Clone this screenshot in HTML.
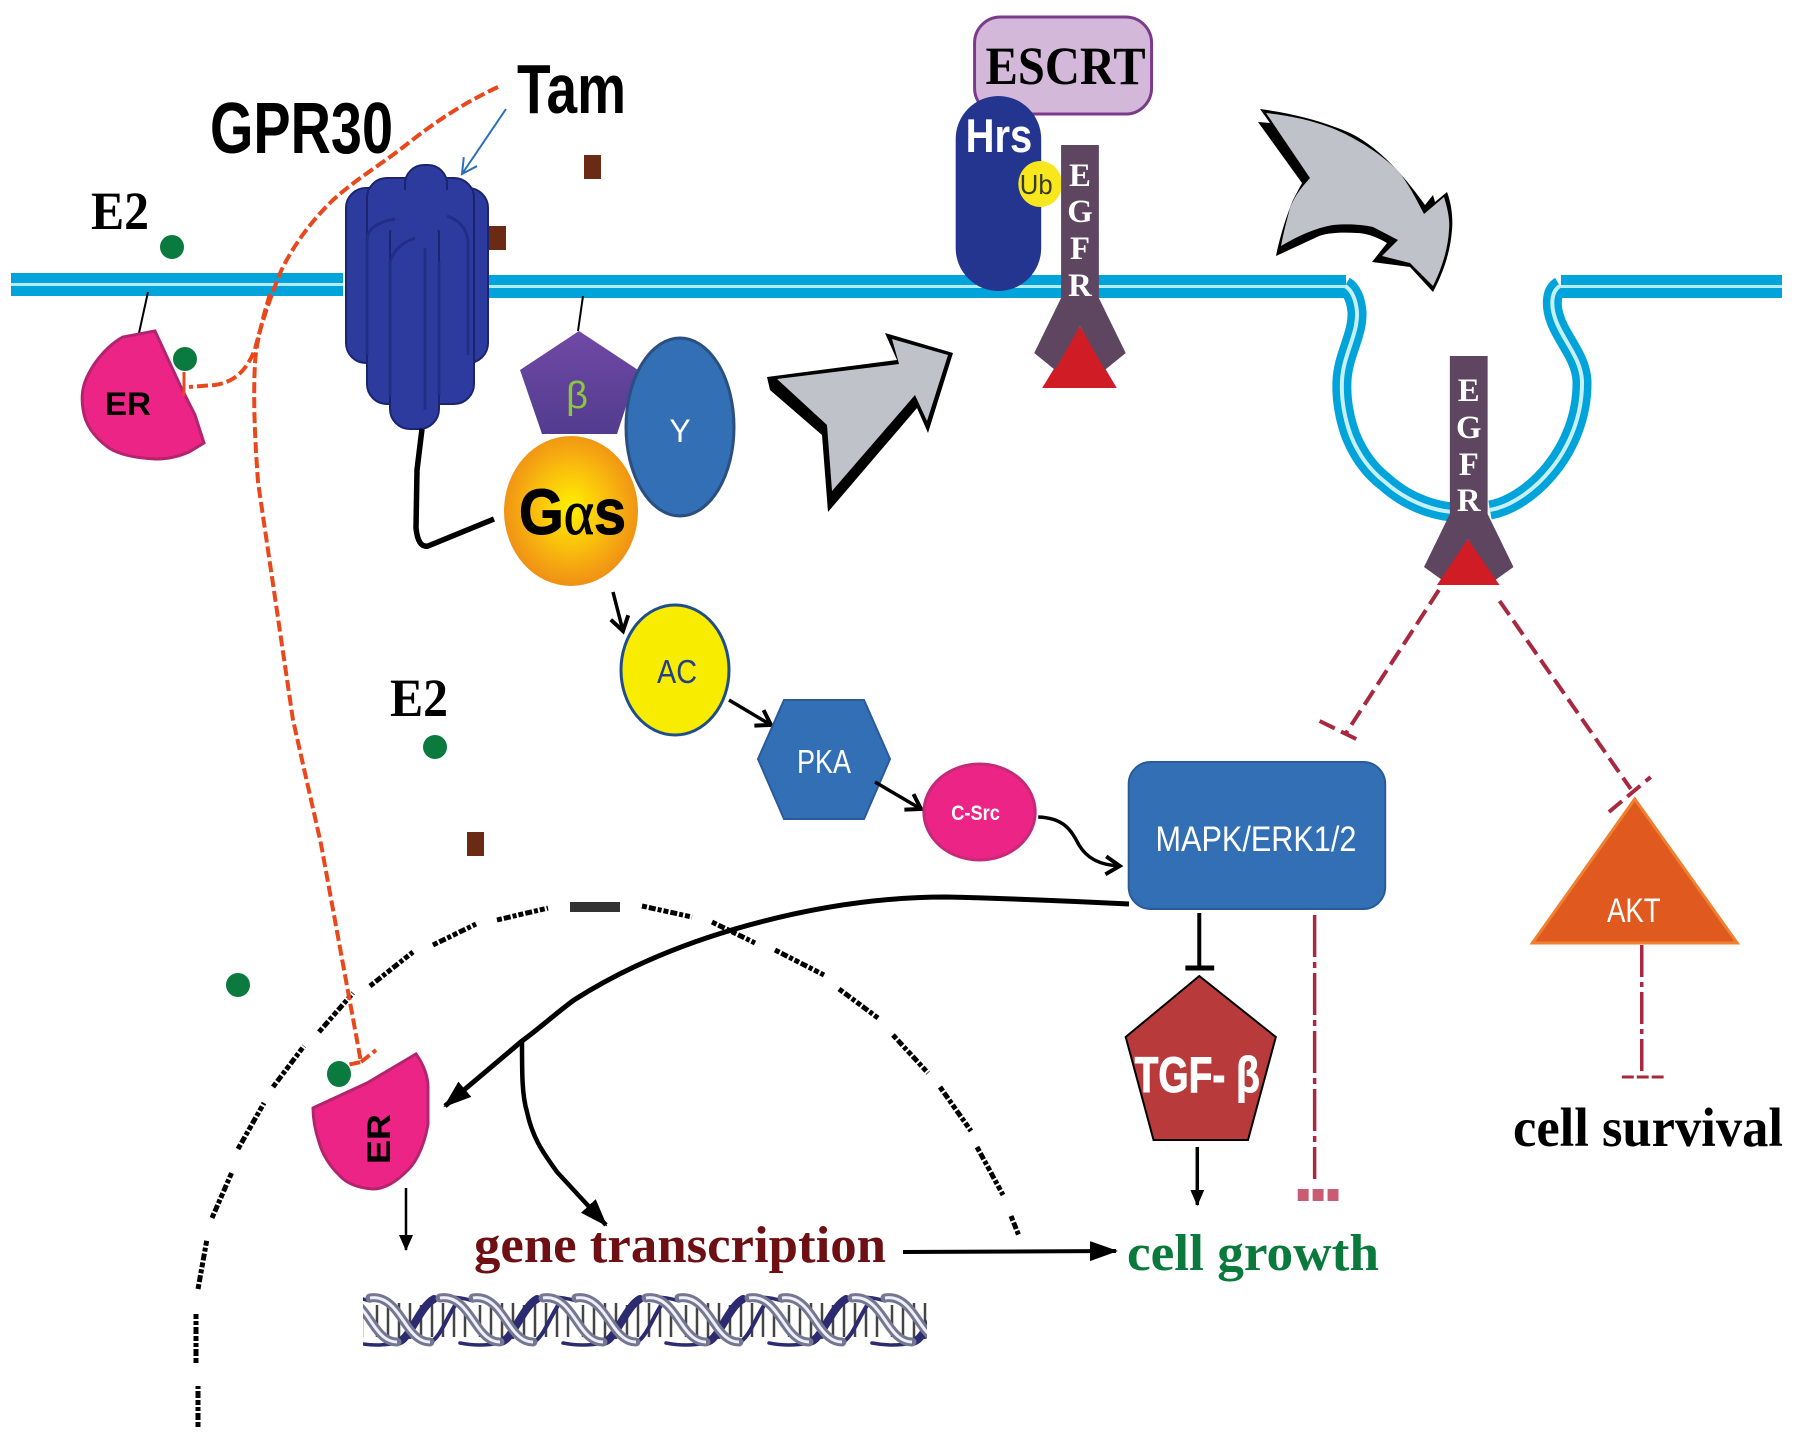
<!DOCTYPE html>
<html>
<head>
<meta charset="utf-8">
<style>
html,body{margin:0;padding:0;background:#fff;}
svg{display:block;}
text{font-family:"Liberation Sans",sans-serif;}
.serif{font-family:"Liberation Serif",serif;font-weight:bold;}
.b{font-weight:bold;}
.eg{font-family:"Liberation Serif",serif;font-weight:bold;fill:#fff;text-anchor:middle;font-size:33px;}
</style>
</head>
<body>
<svg width="1795" height="1440" viewBox="0 0 1795 1440" xmlns="http://www.w3.org/2000/svg">
<defs>
<marker id="solid" markerUnits="userSpaceOnUse" markerWidth="30" markerHeight="24" refX="26" refY="12" orient="auto"><path d="M0,2 L28,12 L0,22 Z" fill="#000"/></marker>
<marker id="small" markerUnits="userSpaceOnUse" markerWidth="20" markerHeight="20" refX="15" refY="10" orient="auto"><path d="M0,3 L16,10 L0,17 Z" fill="#000"/></marker>
<marker id="open" markerUnits="userSpaceOnUse" markerWidth="24" markerHeight="24" refX="17" refY="12" orient="auto"><path d="M3,3 L17,12 L3,21" fill="none" stroke="#000" stroke-width="4"/></marker>
<marker id="thin" markerUnits="userSpaceOnUse" markerWidth="24" markerHeight="24" refX="20" refY="12" orient="auto"><path d="M5,4 L20,12 L5,20" fill="none" stroke="#2a70b9" stroke-width="2"/></marker>
<radialGradient id="ball" cx="50%" cy="48%" r="55%"><stop offset="0" stop-color="#fff200"/><stop offset=".45" stop-color="#fbc20c"/><stop offset="1" stop-color="#ee8a16"/></radialGradient>
<linearGradient id="pent" x1="0" y1="0" x2="0" y2="1"><stop offset="0" stop-color="#7049a6"/><stop offset="1" stop-color="#523c8e"/></linearGradient>
<clipPath id="dclip"><rect x="363" y="1285" width="564" height="70"/></clipPath>
<g id="dnaU">
<path d="M40,10 V42 M51,12 V44 M62,8 V44 M73,8 V44 M84,10 V44 M95,8 V42 M106,8 V42 M117,10 V42 M128,10 V42" stroke="#444" stroke-width="2.5"/>
<path d="M20,48 Q40,52 60,48 M97,3 Q118,0 136,6" fill="none" stroke="#2c2a70" stroke-width="3.5" stroke-linecap="round"/>
<path d="M60,47 C72,47 82,12 97,4" fill="none" stroke="#2c2a70" stroke-width="8" stroke-linecap="round"/>
<path d="M93,47 C103,45 112,16 122,5" fill="none" stroke="#2c2a70" stroke-width="4" stroke-linecap="round"/>
<path d="M0,3 C18,0 28,18 35,28 C43,40 50,47 60,47" fill="none" stroke="#75778f" stroke-width="9" stroke-linecap="round"/>
<path d="M0,3 C18,0 28,18 35,28 C43,40 50,47 60,47" fill="none" stroke="#eef" stroke-width="3"/>
<path d="M33,3 C51,0 61,18 68,28 C76,40 83,47 93,47" fill="none" stroke="#75778f" stroke-width="9" stroke-linecap="round"/>
<path d="M33,3 C51,0 61,18 68,28 C76,40 83,47 93,47" fill="none" stroke="#eef" stroke-width="3"/>
</g>
</defs>

<!-- membrane -->
<rect x="11" y="273" width="332" height="23" fill="#00a3da"/>
<rect x="11" y="283" width="332" height="3" fill="#b5ecfb"/>
<rect x="488" y="275" width="858" height="23" fill="#00a3da"/>
<rect x="488" y="285" width="858" height="3" fill="#b5ecfb"/>
<rect x="1561" y="275" width="221" height="23" fill="#00a3da"/>
<rect x="1561" y="285" width="221" height="3" fill="#b5ecfb"/>
<path d="M1345,286 C1352,290 1356,300 1357,312 C1358,335 1343,355 1342,381 C1341,400 1345,420 1351,436 C1360,458 1372,472 1385,482 C1405,500 1430,510 1452,512 M1490,510 C1530,503 1583,450 1582,381 C1581,358 1563,340 1556,321 C1551,308 1550,292 1560,286" fill="none" stroke="#00a3da" stroke-width="19"/>
<path d="M1345,286 C1352,290 1356,300 1357,312 C1358,335 1343,355 1342,381 C1341,400 1345,420 1351,436 C1360,458 1372,472 1385,482 C1405,500 1430,510 1452,512 M1490,510 C1530,503 1583,450 1582,381 C1581,358 1563,340 1556,321 C1551,308 1550,292 1560,286" fill="none" stroke="#c6f0fb" stroke-width="4"/>

<!-- nucleus dashed envelope -->
<path d="M198,1427 L198,1386 M196,1363 L196,1312 M198,1289 L207,1239 M212,1218 L232,1172 M238,1149 L264,1103 M273,1087 L304,1046 M319,1032 L353,993 M370,986 L413,952 M433,945 L476,924 M497,920 L548,908 M642,906 L692,917 M712,922 L755,943 M775,950 L824,975 M839,989 L878,1018 M893,1035 L928,1073 M940,1087 L971,1131 M977,1147 L1003,1195 M1011,1216 L1019,1236" fill="none" stroke="#000" stroke-width="5" stroke-dasharray="5 2 7 2 4 2"/>
<rect x="570" y="902" width="50" height="10" fill="#333"/>

<!-- ER 1 -->
<line x1="148" y1="292" x2="139" y2="333" stroke="#000" stroke-width="2"/>
<path d="M155,331 L180,385 L195,415 L204,443 L189,452 C175,458 165,459 155,459 C135,458 120,455 109,448 C95,438 85,425 83,409 C80,390 85,378 95,363 C103,352 112,343 123,337 Z" fill="#ec2486" stroke="#b3246f" stroke-width="3"/>
<text x="105" y="415" font-size="32" class="b" textLength="46" lengthAdjust="spacingAndGlyphs">ER</text>

<!-- GPR30 barrel -->
<g fill="#2d3b9e" stroke="#1a2470" stroke-width="2">
<rect x="346" y="188" width="142" height="175" rx="20"/>
<rect x="367" y="178" width="107" height="226" rx="20"/>
<rect x="390" y="215" width="49" height="214" rx="20"/>
<rect x="405" y="165" width="42" height="50" rx="19"/>
</g>
<rect x="369" y="190" width="103" height="40" fill="#2d3b9e"/>
<rect x="392" y="215" width="45" height="40" fill="#2d3b9e"/>
<path d="M367,355 L367,240 Q367,224 395,219 M390,395 L390,262 Q395,245 415,238 M425,410 L425,248 M439,395 L439,262 M468,355 L468,240 Q465,222 447,216" stroke="#222d85" stroke-width="3" fill="none"/>

<!-- connector from barrel to G alpha -->
<path d="M422,429 L417,470 L416,528 Q418,548 428,546 L494,519" fill="none" stroke="#000" stroke-width="5.5"/>

<!-- brown squares -->
<rect x="584" y="155" width="17" height="24" fill="#6b2a14"/>
<rect x="489" y="226" width="17" height="24" fill="#6b2a14"/>
<rect x="467" y="832" width="17" height="24" fill="#6b2a14"/>

<!-- green dots -->
<g fill="#0a7a3f">
<ellipse cx="172" cy="247" rx="12" ry="12"/>
<ellipse cx="185" cy="359" rx="12" ry="12"/>
<ellipse cx="435" cy="747" rx="12" ry="12"/>
<ellipse cx="238" cy="985" rx="12" ry="12"/>
<ellipse cx="339" cy="1074" rx="12" ry="13"/>
</g>

<!-- orange dashed -->
<g fill="none" stroke="#e8481c" stroke-width="4" stroke-dasharray="11 4">
<path d="M498,87 C455,107 425,130 402,148 C380,165 355,180 333,200 Q300,232 281,271 Q265,310 255,349 C247,370 235,382 215,385 L189,387"/>
<path d="M270,294 C262,320 256,345 255,363 C253,400 255,440 258,482 L293,720 L321,844 L347,986 L361,1062 L347,1065"/>
<path d="M361,1062 L376,1050"/>
</g>
<line x1="184" y1="372" x2="184" y2="396" stroke="#e8481c" stroke-width="3"/>

<!-- blue thin arrow -->
<line x1="506" y1="109" x2="462" y2="174" stroke="#2a70b9" stroke-width="2" marker-end="url(#thin)"/>

<!-- beta gamma G alpha -->
<line x1="583" y1="296" x2="578" y2="331" stroke="#000" stroke-width="2"/>
<polygon points="579,331 638,370 617,434 542,434 520,370" fill="url(#pent)"/>
<text x="577" y="408" font-size="38" text-anchor="middle" fill="#8cc63f">β</text>
<ellipse cx="680" cy="427" rx="54" ry="89" fill="#336fb5" stroke="#2a4f80" stroke-width="3"/>
<text x="680" y="442" font-size="32" text-anchor="middle" fill="#fff">Υ</text>
<ellipse cx="571" cy="511" rx="67" ry="75" fill="url(#ball)"/>
<text x="519" y="534" font-size="64" class="b" textLength="107" lengthAdjust="spacingAndGlyphs" stroke="#000" stroke-width="1">G<tspan font-family="Liberation Serif" font-weight="normal">α</tspan>s</text>

<!-- signalling -->
<path d="M613,592 L623,631" stroke="#000" stroke-width="3.5" marker-end="url(#open)" fill="none"/>
<ellipse cx="675" cy="670" rx="54" ry="65" fill="#f8ec00" stroke="#1f4e8c" stroke-width="3"/>
<text x="677" y="683" font-size="33" text-anchor="middle" fill="#24408a" textLength="40" lengthAdjust="spacingAndGlyphs">AC</text>
<path d="M729,700 L771,725" stroke="#000" stroke-width="3.5" marker-end="url(#open)" fill="none"/>
<polygon points="758,759 784,700 864,700 890,759 864,819 784,819" fill="#336fb5" stroke="#2a5a9a" stroke-width="2"/>
<text x="824" y="773" font-size="33" text-anchor="middle" fill="#fff" textLength="54" lengthAdjust="spacingAndGlyphs">PKA</text>
<path d="M875,782 L921,809" stroke="#000" stroke-width="3.5" marker-end="url(#open)" fill="none"/>

<g transform="translate(900 0) scale(.9943 1) translate(-900 0)">
<ellipse cx="980" cy="812" rx="56" ry="48" fill="#ec2486" stroke="#c42a78" stroke-width="3"/>
<text x="976" y="820" font-size="21" class="b" text-anchor="middle" fill="#fff" textLength="49" lengthAdjust="spacingAndGlyphs">C-Src</text>
<path d="M1039,817 C1065,818 1072,830 1080,845 C1088,858 1100,865 1121,866" stroke="#000" stroke-width="3.5" marker-end="url(#open)" fill="none"/>
<rect x="1130" y="762" width="258" height="147" rx="22" fill="#336fb5" stroke="#2a5a9a" stroke-width="2"/>
<text x="1157" y="851" font-size="35" fill="#fff" textLength="202" lengthAdjust="spacingAndGlyphs">MAPK/ERK1/2</text>
</g>

<!-- black curve -->
<path d="M1129,904 C1050,900 990,898 946,897 C870,897 800,910 735,929 C670,948 618,972 574,1000 C555,1014 540,1028 522,1041 L445,1106" fill="none" stroke="#000" stroke-width="5" marker-end="url(#solid)"/>
<path d="M522,1041 C522,1075 522,1095 527,1112 C533,1140 545,1155 557,1172 L606,1225" fill="none" stroke="#000" stroke-width="4.5" marker-end="url(#solid)"/>

<g transform="translate(900 0) scale(.9943 1) translate(-900 0)">
<!-- TGF -->
<line x1="1201" y1="913" x2="1201" y2="968" stroke="#000" stroke-width="4"/>
<line x1="1187" y1="968" x2="1216" y2="968" stroke="#000" stroke-width="5"/>
<polygon points="1201,976 1278,1037 1250,1140 1155,1140 1127,1037" fill="#b83a3a" stroke="#000" stroke-width="2"/>
<text x="1136" y="1092" font-size="50" class="b" fill="#fff" textLength="126" lengthAdjust="spacingAndGlyphs" stroke="#fff" stroke-width="1">TGF- β</text>
<line x1="1199" y1="1147" x2="1199" y2="1205" stroke="#000" stroke-width="3.5" marker-end="url(#small)"/>
<!-- dash-dot to cell growth -->
<line x1="1317" y1="915" x2="1317" y2="1179" stroke="#a8283f" stroke-width="3.5" stroke-dasharray="42 5 6 5"/>
<line x1="1300" y1="1195" x2="1341" y2="1195" stroke="#c0405a" stroke-width="12" stroke-dasharray="11 4" opacity=".85"/>
<!-- AKT -->
<polygon points="1639,799 1742,943 1536,943" fill="#e05a20" stroke="#f08030" stroke-width="3"/>
<text x="1611" y="922" font-size="34" fill="#fff" textLength="54" lengthAdjust="spacingAndGlyphs">AKT</text>
<line x1="1646" y1="945" x2="1646" y2="1076" stroke="#a8283f" stroke-width="3.5" stroke-dasharray="32 5 5 5"/>
<line x1="1626" y1="1077" x2="1668" y2="1077" stroke="#a8283f" stroke-width="3" stroke-dasharray="12 3"/>
<!-- red dashed inhibitors -->
<line x1="1442" y1="590" x2="1348" y2="734" stroke="#a8283f" stroke-width="4" stroke-dasharray="17 7"/>
<line x1="1322" y1="721" x2="1365" y2="742" stroke="#a8283f" stroke-width="4" stroke-dasharray="17 7"/>
<line x1="1503" y1="601" x2="1635" y2="789" stroke="#a8283f" stroke-width="4" stroke-dasharray="17 7"/>
<line x1="1613" y1="812" x2="1655" y2="777" stroke="#a8283f" stroke-width="4" stroke-dasharray="17 7"/>
</g>

<!-- big arrow 1 -->
<polygon points="767,377 897,360 885,333 953,353 928,433 917,408 828,512 822,435 770,390" fill="#000"/>
<polygon points="777,379 899,364 892,339 948,355 927,421 915,395 832,491 827,425" fill="#bfc2c9"/>

<!-- big arrow 2 -->
<path d="M1260,109 C1290,113 1320,120 1350,133 C1375,145 1400,170 1425,205 L1433,195 L1435,202 L1447,192 C1452,205 1453,220 1452,230 C1450,255 1442,275 1433,292 L1410,267 L1372,262 L1387,243 C1375,236 1365,233 1357,233 C1340,232 1325,233 1317,237 L1276,256 C1281,232 1287,215 1293,200 L1302,183 L1258,122 L1270,123 Z" fill="#000"/>
<path d="M1266,113 C1295,116 1325,123 1349,136 C1372,148 1392,163 1402,176 C1412,190 1418,203 1424,214 L1444,197 C1448,210 1450,220 1449,230 C1448,250 1441,270 1433,286 L1410,263 L1382,256 L1398,240 L1373,227 C1360,224 1345,224 1333,225 C1315,228 1298,236 1281,246 C1284,230 1287,220 1290,208 C1295,195 1302,187 1310,178 Z" fill="#bfc2c9"/>

<g transform="translate(900 0) scale(.9943 1) translate(-900 0)">
<!-- ESCRT / Hrs / Ub -->
<rect x="975" y="17" width="178" height="97" rx="26" fill="#d3b8d9" stroke="#7c3a8a" stroke-width="3"/>
<text x="986" y="84" font-size="54" class="serif" textLength="161" lengthAdjust="spacingAndGlyphs">ESCRT</text>
<rect x="956" y="96" width="86" height="195" rx="43" fill="#24358f"/>
<text x="966" y="152" font-size="47" class="b" fill="#fff" textLength="67" lengthAdjust="spacingAndGlyphs">Hrs</text>
<ellipse cx="1041" cy="184" rx="22" ry="23" fill="#f8e71c"/>
<text x="1037" y="194" font-size="28" text-anchor="middle" fill="#3a3a20" textLength="33" lengthAdjust="spacingAndGlyphs">Ub</text>
<!-- EGFR 1 -->
<polygon points="1043,388 1118,388 1081,326" fill="#d01c24"/>
<path d="M1062,145 L1100,145 L1100,298 L1127,353 L1106,370 L1081,326 L1056,370 L1035,353 L1062,298 Z" fill="#5e4660"/>
<text x="1081" y="186" class="eg">E</text>
<text x="1081" y="222" class="eg">G</text>
<text x="1081" y="259" class="eg">F</text>
<text x="1081" y="296" class="eg">R</text>
<!-- EGFR 2 -->
<path d="M1453,356 L1491,356 L1491,514 L1517,567 L1496,582 L1471,539 L1448,582 L1427,567 L1453,514 Z" fill="#5e4660"/>
<polygon points="1440,585 1503,585 1471,539" fill="#d01c24"/>
<text x="1472" y="401" class="eg">E</text>
<text x="1472" y="438" class="eg">G</text>
<text x="1472" y="475" class="eg">F</text>
<text x="1472" y="511" class="eg">R</text>
</g>

<!-- ER 2 -->
<path d="M416,1054 C424,1065 428,1077 428,1087 L428,1124 C425,1142 418,1160 408,1170 C396,1182 385,1189 373,1189 C358,1188 347,1184 339,1175 C328,1164 322,1153 319,1142 C315,1130 313,1118 313,1108 L367,1083 Z" fill="#ec2486" stroke="#b3246f" stroke-width="3"/>
<text transform="translate(390,1164) rotate(-90)" font-size="32" class="b" textLength="50" lengthAdjust="spacingAndGlyphs">ER</text>
<line x1="406" y1="1188" x2="406" y2="1250" stroke="#000" stroke-width="2.5" marker-end="url(#small)"/>

<!-- DNA -->
<g clip-path="url(#dclip)">
<use href="#dnaU" x="234" y="1295"/>
<use href="#dnaU" x="337" y="1295"/>
<use href="#dnaU" x="440" y="1295"/>
<use href="#dnaU" x="543" y="1295"/>
<use href="#dnaU" x="646" y="1295"/>
<use href="#dnaU" x="749" y="1295"/>
<use href="#dnaU" x="852" y="1295"/>
</g>

<!-- gene to growth -->
<line x1="903" y1="1252" x2="1116" y2="1251" stroke="#000" stroke-width="4" marker-end="url(#solid)"/>

<!-- labels -->
<text x="517" y="113" font-size="70" class="b" textLength="109" lengthAdjust="spacingAndGlyphs">Tam</text>
<text x="210" y="153" font-size="72" class="b" textLength="183" lengthAdjust="spacingAndGlyphs">GPR30</text>
<text x="91" y="229" font-size="54" class="serif" textLength="58" lengthAdjust="spacingAndGlyphs">E2</text>
<text x="390" y="716" font-size="54" class="serif" textLength="58" lengthAdjust="spacingAndGlyphs">E2</text>
<text x="474" y="1262" font-size="52" class="serif" fill="#6e0f14" textLength="412" lengthAdjust="spacingAndGlyphs">gene transcription</text>
<text x="1127" y="1270" font-size="52" class="serif" fill="#0a7a3c" textLength="252" lengthAdjust="spacingAndGlyphs">cell growth</text>
<text x="1513" y="1146" font-size="55" class="serif" textLength="270" lengthAdjust="spacingAndGlyphs">cell survival</text>
</svg>
</body>
</html>
